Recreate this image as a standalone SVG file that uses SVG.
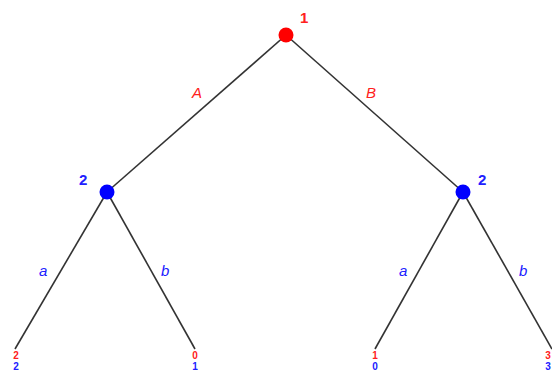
<svg xmlns="http://www.w3.org/2000/svg" width="552" height="380" viewBox="0 0 552 380">
<style>
.edge{stroke:#333;stroke-width:1.6;fill:none}
.lbl{font-family:"Liberation Sans",Arial,sans-serif;font-style:italic;font-size:15px}
.pl{font-family:"Liberation Sans",Arial,sans-serif;font-weight:bold;font-size:15px}
.pay{font-family:"Liberation Sans",Arial,sans-serif;font-weight:bold;font-size:10px;text-anchor:middle}
.r{fill:#ff2020}
.b{fill:#2020ff}
</style>
<rect width="552" height="380" fill="#fff"/>
<g id="connectors">
<line class="edge" x1="286" y1="35" x2="107" y2="192"/>
<line class="edge" x1="286" y1="35" x2="463" y2="192"/>
<line class="edge" x1="107" y1="192" x2="15" y2="349"/>
<line class="edge" x1="107" y1="192" x2="195" y2="349"/>
<line class="edge" x1="463" y1="192" x2="375" y2="349"/>
<line class="edge" x1="463" y1="192" x2="552" y2="349"/>
<text class="lbl r" x="192" y="98">A</text>
<text class="lbl r" x="366" y="98">B</text>
<text class="lbl b" x="39" y="276">a</text>
<text class="lbl b" x="161" y="276">b</text>
<text class="lbl b" x="399" y="276">a</text>
<text class="lbl b" x="519" y="276">b</text>
</g>
<g id="n1"><circle cx="286" cy="35" r="7.5" fill="#ff0000"/><text class="pl r" x="300" y="23">1</text></g>
<g id="n2l"><circle cx="107" cy="192" r="7.5" fill="#0000ff"/><text class="pl b" x="79" y="185">2</text></g>
<g id="n2r"><circle cx="463" cy="192" r="7.5" fill="#0000ff"/><text class="pl b" x="478" y="185">2</text></g>
<g id="leaf1"><text class="pay r" x="16" y="359">2</text><text class="pay b" x="16" y="370">2</text></g>
<g id="leaf2"><text class="pay r" x="195" y="359">0</text><text class="pay b" x="195" y="370">1</text></g>
<g id="leaf3"><text class="pay r" x="375" y="359">1</text><text class="pay b" x="375" y="370">0</text></g>
<g id="leaf4"><text class="pay r" x="548" y="359">3</text><text class="pay b" x="548" y="370">3</text></g>
</svg>
